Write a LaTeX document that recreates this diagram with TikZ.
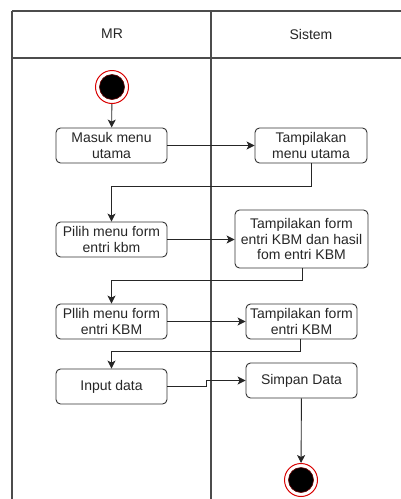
\documentclass[tikz,border=0pt]{standalone}
\usepackage{fontspec}
\setmainfont{Liberation Sans}
\usetikzlibrary{arrows.meta,positioning}
\begin{document}
\begin{tikzpicture}[x=1pt,y=-1pt,
  font=\fontsize{14}{15.5}\selectfont,
  lane/.style={draw=black!70,line width=1.2pt},
  act/.style={draw=black!80,line width=0.9pt,rounded corners=4.5pt,align=center,
    minimum height=35pt,inner sep=1pt,text=black!85},
  flow/.style={draw=black!85,line width=0.9pt,-{Stealth[length=8pt,width=8pt,inset=2pt]}},
  terminal/.style={circle,draw=red!85!black,line width=1pt,fill=white,minimum size=33pt,inner sep=0pt}]
\useasboundingbox (0,0) rectangle (401,499);

% swimlane frame
\draw[lane] (12,11) -- (405,11);
\draw[lane] (12,58) -- (405,58);
\draw[lane] (12,11) -- (12,505);
\draw[lane] (211,11) -- (211,505);
\node[text=black!85] (laneMR) at (112,34) {MR};
\node[text=black!85] (laneSys) at (311,34) {Sistem};

% start and end states
\node[terminal] (start) at (112,87) {};
\fill[black,draw=red!40!black,line width=0.6pt] (start.center) circle (12.5);
\node[terminal] (stop) at (301,480) {};
\fill[black,draw=red!40!black,line width=0.6pt] (stop.center) circle (12.5);

% activities
\node[act,minimum width=111pt] (a) at (111.5,145.5) {Masuk menu\\utama};
\node[act,minimum width=112pt] (b) at (311,145.5) {Tampilakan\\menu utama};
\node[act,minimum width=111pt] (c) at (111.5,239.5) {Pilih menu form\\entri kbm};
\node[act,minimum width=133pt,minimum height=58pt] (d) at (301.5,239) {Tampilakan form\\entri KBM dan hasil\\fom entri KBM};
\node[act,minimum width=111pt] (e) at (111.5,321.5) {Pllih menu form\\entri KBM};
\node[act,minimum width=111pt] (f) at (301.5,321.5) {Tampilakan form\\entri KBM};
\node[act,minimum width=111pt] (g) at (111.5,386.5) {Input data};
\node[act,minimum width=111pt] (h) at (301.5,380.5) {Simpan Data};

% control flow
\draw[flow] (start) -- (a);
\draw[flow] (a) -- (b);
\draw[flow] (b.south) -- ++(0,23) -| (c.north);
\draw[flow] (c) -- (d.west |- c.east);
\draw[flow] (d.south) ++(0.5,0) -- ++(0,12) -| (e.north);
\draw[flow] (e) -- (f);
\draw[flow] (f.south) ++(-1.5,0) -- ++(0,12) -| (g.north);
\draw[flow] (g.east) -- ++(39,0) |- (h.west);
\draw[flow] (h) -- (stop);
\end{tikzpicture}
\end{document}
